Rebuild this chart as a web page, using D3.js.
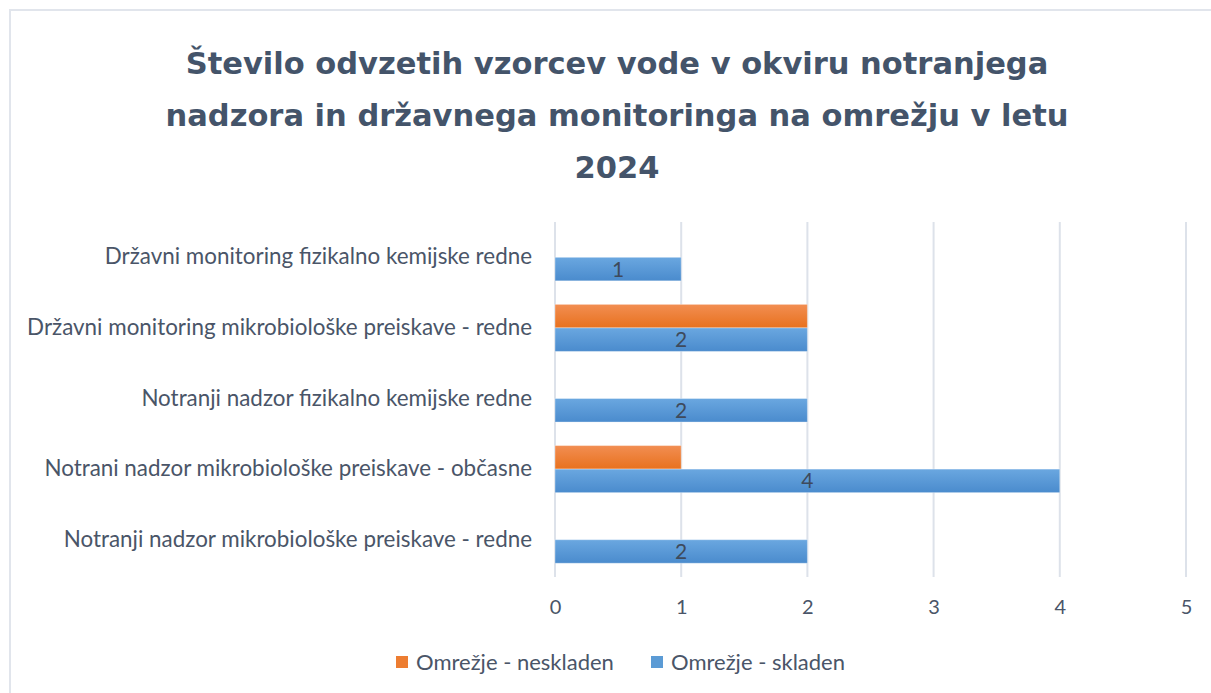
<!DOCTYPE html>
<html>
<head>
<meta charset="utf-8">
<script src="https://cdn.jsdelivr.net/npm/d3@7"></script>
<style>
  body { margin: 0; background: #fff; }
  text { font-family: Lato, "Open Sans", sans-serif; }
</style>
</head>
<body>
<script>
// chart data
const categories = [
  "Državni monitoring fizikalno kemijske redne",
  "Državni monitoring mikrobiološke preiskave - redne",
  "Notranji nadzor fizikalno kemijske redne",
  "Notrani nadzor mikrobiološke preiskave - občasne",
  "Notranji nadzor mikrobiološke preiskave - redne"
];
const seriesNames = ["Omrežje - neskladen", "Omrežje - skladen"];
const neskladen = [null, 2, null, 1, null];
const skladen = [1, 2, 2, 4, 2];
const xTicks = [0, 1, 2, 3, 4, 5];
const titleLines = [
  "Število odvzetih vzorcev vode v okviru notranjega",
  "nadzora in državnega monitoringa na omrežju v letu",
  "2024"
];

const width = 1211, height = 693;
const colors = { "Omrežje - neskladen": "#ED7D31", "Omrežje - skladen": "#5B9BD5" };
const textColor = "#4A5568";

const svg = d3.select("body").append("svg")
    .attr("width", width)
    .attr("height", height);

// gradients for the bars
const defs = svg.append("defs");
function grad(id, top, bottom) {
  const g = defs.append("linearGradient").attr("id", id)
      .attr("x1", 0).attr("y1", 0).attr("x2", 0).attr("y2", 1);
  g.append("stop").attr("offset", "0%").attr("stop-color", top);
  g.append("stop").attr("offset", "100%").attr("stop-color", bottom);
}
grad("g-orange", "#F28E52", "#E8711E");
grad("g-blue", "#6AA7E0", "#4A8BCD");
const fills = { "Omrežje - neskladen": "url(#g-orange)", "Omrežje - skladen": "url(#g-blue)" };

// chart border
svg.append("rect")
    .attr("x", 10).attr("y", 10)
    .attr("width", width + 20).attr("height", height + 20)
    .attr("fill", "none")
    .attr("stroke", "#E1E5EC")
    .attr("stroke-width", 2);

// title
svg.append("g").selectAll("text")
    .data(titleLines)
    .enter().append("text")
    .attr("x", 617)
    .attr("y", (d, i) => 74 + i * 52)
    .attr("text-anchor", "middle")
    .attr("font-size", "30.5px")
    .attr("font-weight", "bold")
    .attr("fill", "#44546A")
    .style("font-family", "'DejaVu Sans', sans-serif")
    .text(d => d);

// scales
const x = d3.scaleLinear().domain([0, 5]).range([555, 1186]);
const y = d3.scaleBand().domain(categories).range([222, 575]);
const ySub = d3.scaleBand().domain(seriesNames).range([0, y.bandwidth()])
    .paddingInner(0).paddingOuter(0.5);

// gridlines
svg.append("g").selectAll("line")
    .data(xTicks)
    .enter().append("line")
    .attr("x1", d => x(d)).attr("x2", d => x(d))
    .attr("y1", 222).attr("y2", 577)
    .attr("stroke", "#DDE2EA")
    .attr("stroke-width", 2);

// x axis labels
const xAxis = svg.append("g")
    .attr("transform", "translate(0,592)")
    .call(d3.axisBottom(x).tickValues(xTicks).tickSize(0).tickPadding(8).tickFormat(d3.format("d")));
xAxis.select(".domain").remove();
xAxis.selectAll("text")
    .attr("font-size", "20px")
    .attr("fill", textColor)
    .style("font-family", "Lato, 'Open Sans', sans-serif");

// y axis labels
const yAxis = svg.append("g")
    .attr("transform", "translate(532,0)")
    .call(d3.axisLeft(y).tickSize(0).tickPadding(0));
yAxis.select(".domain").remove();
yAxis.selectAll("text")
    .attr("font-size", "22.4px")
    .attr("fill", textColor)
    .style("font-family", "Lato, 'Open Sans', sans-serif");

// bars
const rows = categories.map((c, i) => ({
  category: c,
  values: [
    { series: seriesNames[0], value: neskladen[i] },
    { series: seriesNames[1], value: skladen[i] }
  ]
}));

const groups = svg.append("g").selectAll("g")
    .data(rows)
    .enter().append("g")
    .attr("transform", d => `translate(0,${y(d.category)})`);

groups.selectAll("rect")
    .data(d => d.values.filter(v => v.value != null))
    .enter().append("rect")
    .attr("x", x(0))
    .attr("y", d => ySub(d.series))
    .attr("width", d => x(d.value) - x(0))
    .attr("height", ySub.bandwidth())
    .attr("fill", d => fills[d.series])
    .attr("stroke", "#ffffff")
    .attr("stroke-opacity", 0.35)
    .attr("stroke-width", 1);

// data labels on the blue bars
groups.selectAll("text.val")
    .data(d => d.values.filter(v => v.series === seriesNames[1] && v.value != null))
    .enter().append("text")
    .attr("class", "val")
    .attr("x", d => (x(0) + x(d.value)) / 2)
    .attr("y", d => ySub(d.series) + ySub.bandwidth() / 2)
    .attr("dy", "0.36em")
    .attr("text-anchor", "middle")
    .attr("font-size", "21px")
    .attr("fill", "#3E4A5C")
    .text(d => d.value);

// legend
const legend = svg.append("g").attr("transform", "translate(0,662)");
const legendX = [396, 651];
const items = legend.selectAll("g")
    .data(seriesNames)
    .enter().append("g")
    .attr("transform", (d, i) => `translate(${legendX[i]},0)`);
items.append("rect")
    .attr("x", 0).attr("y", -6)
    .attr("width", 12).attr("height", 12)
    .attr("fill", d => colors[d]);
items.append("text")
    .attr("x", 20)
    .attr("y", 0)
    .attr("dy", "0.35em")
    .attr("font-size", "22px")
    .attr("fill", textColor)
    .text(d => d);
</script>
</body>
</html>
